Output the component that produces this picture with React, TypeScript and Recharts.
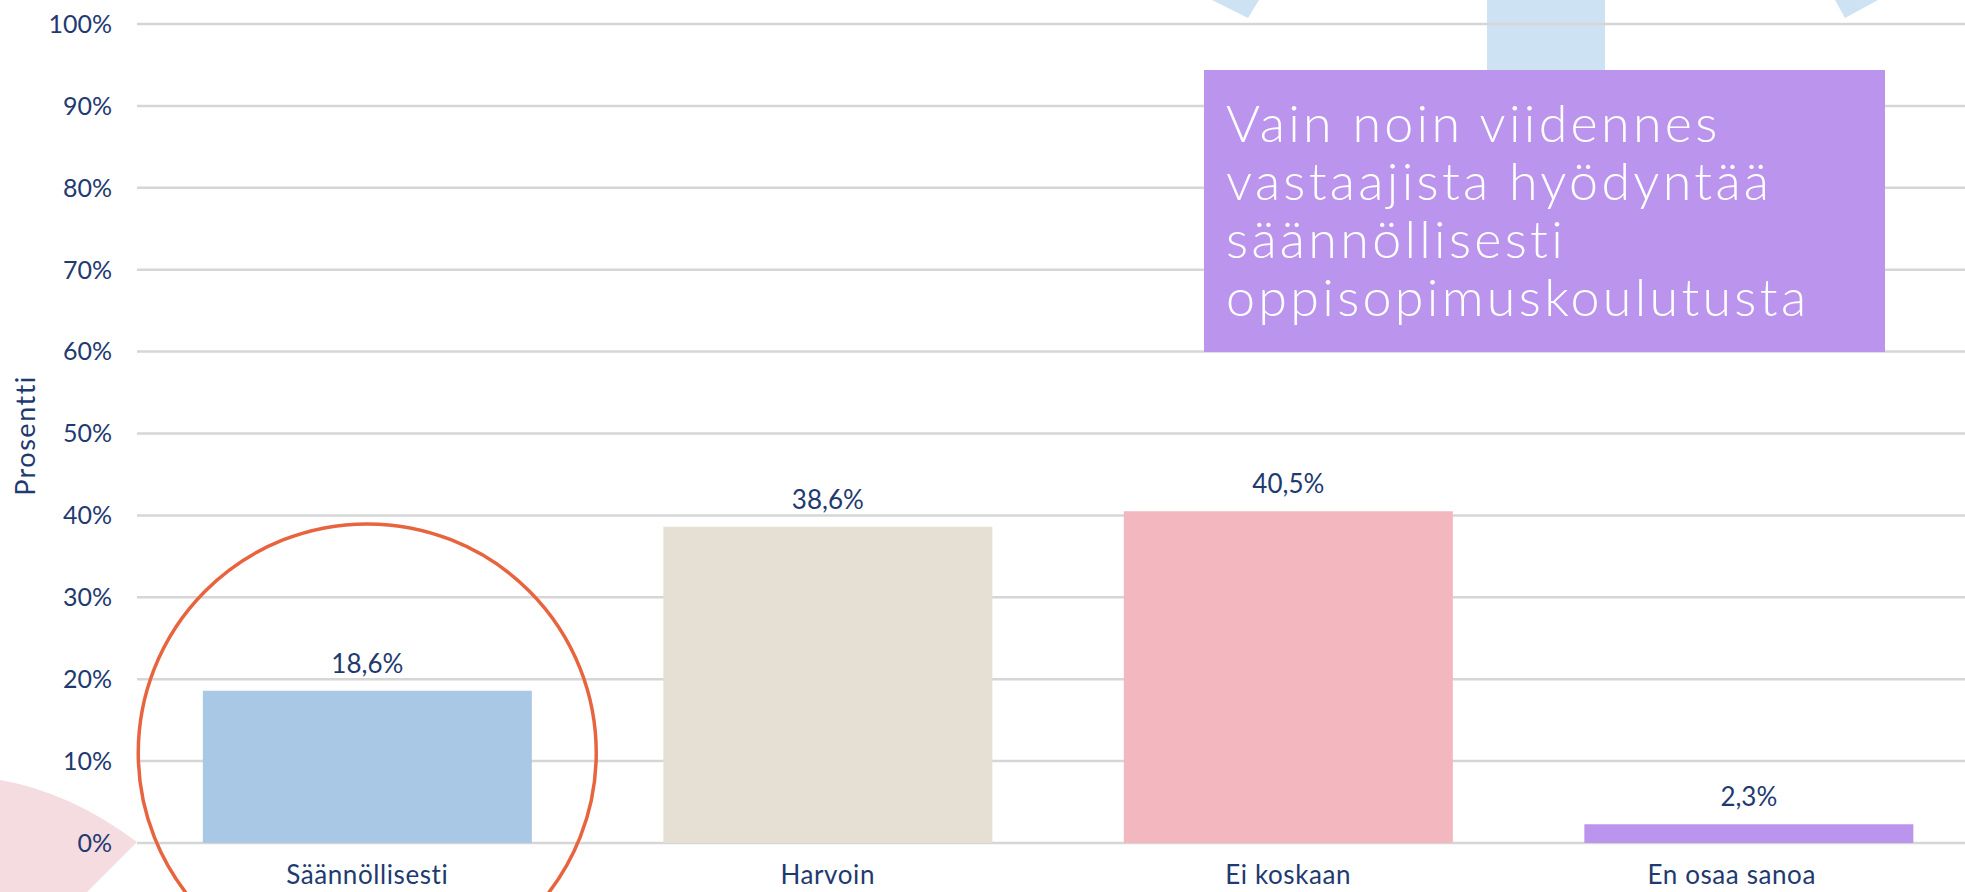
import { BarChart, Bar, XAxis, YAxis, CartesianGrid, Cell, LabelList, ReferenceDot, Label } from "recharts";

const categories = ["Säännöllisesti", "Harvoin", "Ei koskaan", "En osaa sanoa"];
const shares = [18.6, 38.6, 40.5, 2.3];
const barColors = ["#a8c8e6", "#e6e0d4", "#f2b7bf", "#bb94ee"];
const yTicks = [0, 10, 20, 30, 40, 50, 60, 70, 80, 90, 100];
const noteLines = ["Vain noin viidennes", "vastaajista hyödyntää", "säännöllisesti", "oppisopimuskoulutusta"];

const navy = "#1e3a70";
const font = "Lato, 'Noto Sans', sans-serif";

const data = categories.map((name, i) => ({ name, value: shares[i] }));

const pct = (v: any) => `${Number(v).toFixed(1).replace(".", ",")}%`;

// last label is pulled inside the chart edge like in the original
const CategoryTick = ({ x, y, payload, index }: any) => (
  <text
    x={x + (index === categories.length - 1 ? -17 : 0)}
    y={y}
    dy="0.71em"
    textAnchor="middle"
    fill={navy}
    fontSize={26}
    letterSpacing={0.6}
    fontFamily={font}
  >
    {payload.value}
  </text>
);

const App = () => {
  return (
    <div
      style={{
        position: "fixed",
        left: 0,
        top: 0,
        width: 1965,
        height: 892,
        overflow: "hidden",
        background: "#fff",
        fontFamily: font,
      }}
    >
      {/* background decorations */}
      <svg width={1965} height={892} style={{ position: "absolute", left: 0, top: 0 }}>
        <path d="M137,842 Q70,792 0,780 L0,892 L87,892 Z" fill="#f5dce0" />
        <rect x={1487} y={0} width={118} height={80} fill="#cde2f3" />
        <polygon points="1212,0 1259,0 1248,18" fill="#cde2f3" />
        <polygon points="1835,0 1878,0 1845,18" fill="#cde2f3" />
      </svg>

      <div style={{ position: "absolute", left: 0, top: 0 }}>
        <BarChart
          width={1979}
          height={892}
          data={data}
          margin={{ top: 24, right: 0, bottom: 0, left: 0 }}
          barCategoryGap="14.3%"
        >
          <CartesianGrid vertical={false} stroke="#d6d6d6" strokeWidth={2.5} />
          <XAxis
            dataKey="name"
            height={49}
            axisLine={false}
            tickLine={false}
            tickSize={0}
            tickMargin={23}
            tick={<CategoryTick />}
            interval={0}
          />
          <YAxis
            width={137}
            domain={[0, 100]}
            ticks={yTicks}
            axisLine={false}
            tickLine={false}
            tickSize={0}
            tickMargin={25}
            tickFormatter={(v) => `${v}%`}
            tick={{ fill: navy, fontSize: 25, fontFamily: font }}
          >
            <Label
              content={({ viewBox }: any) => {
                const cx = 24;
                const cy = viewBox.y + viewBox.height / 2 + 2;
                return (
                  <text
                    x={cx}
                    y={cy}
                    transform={`rotate(-90, ${cx}, ${cy})`}
                    textAnchor="middle"
                    dominantBaseline="central"
                    fill={navy}
                    fontSize={27}
                    letterSpacing={1.5}
                    fontFamily={font}
                  >
                    Prosentti
                  </text>
                );
              }}
            />
          </YAxis>
          <Bar dataKey="value" isAnimationActive={false}>
            {data.map((d, i) => (
              <Cell key={d.name} fill={barColors[i]} />
            ))}
            <LabelList
              dataKey="value"
              position="top"
              offset={18}
              formatter={pct}
              fill={navy}
              fontSize={26}
              fontFamily={font}
            />
          </Bar>
          <ReferenceDot
            x={categories[0]}
            y={11}
            r={229}
            fill="none"
            stroke="#e8643f"
            strokeWidth={3.5}
          />
        </BarChart>
      </div>

      {/* note box */}
      <div
        style={{
          position: "absolute",
          left: 1204,
          top: 70,
          width: 681,
          height: 282,
          background: "#bb94ee",
          color: "#fff",
          boxSizing: "border-box",
          padding: "23px 0 0 22px",
          fontSize: 52,
          fontWeight: 300,
          letterSpacing: 3.3,
          lineHeight: "58px",
          fontFamily: font,
          whiteSpace: "nowrap",
        }}
      >
        {noteLines.map((l) => (
          <div key={l}>{l}</div>
        ))}
      </div>
    </div>
  );
};

export default App;
